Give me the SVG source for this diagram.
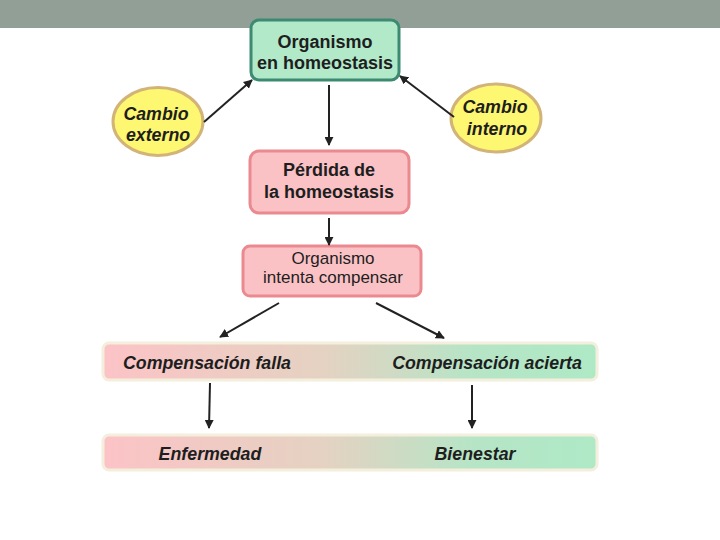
<svg xmlns="http://www.w3.org/2000/svg" width="720" height="540" viewBox="0 0 720 540">
<style>
text{font-family:"Liberation Sans",Arial,sans-serif;fill:#1e1e1e;text-anchor:middle;dominant-baseline:central}
.b{font-weight:bold;font-size:18px}
.r{font-size:17px}
.bi{font-weight:bold;font-style:italic;font-size:17.8px}
.green{fill:#b2e9c9;stroke:#3d8a72;stroke-width:3}
.pink{fill:#fbc2c6;stroke:#ea8a90;stroke-width:3}
.yel{fill:#fdf771;stroke:#d2b478;stroke-width:3}
.bar{fill:url(#g);stroke:#f3efdc;stroke-width:3}
.c{stroke:#222;stroke-width:2;fill:none;marker-end:url(#ah)}
</style>
<defs>
<linearGradient id="g" x1="0" y1="0" x2="1" y2="0">
<stop offset="0" stop-color="#fcc3c6"/>
<stop offset="0.45" stop-color="#e4d2c2"/>
<stop offset="0.75" stop-color="#b6e5c6"/>
<stop offset="1" stop-color="#aee9c6"/>
</linearGradient>
<marker id="ah" viewBox="0 0 10 10" refX="9" refY="5" markerWidth="4.5" markerHeight="4.5" orient="auto" markerUnits="strokeWidth">
<path d="M0,0 L10,5 L0,10 z" fill="#222"/>
</marker>
</defs>
<rect x="0" y="0" width="720" height="28" fill="#929f96"/>
<g id="organismo-homeostasis">
<rect class="green" x="251" y="20" width="148" height="60" rx="8"/>
<text class="b" x="325" y="42">Organismo</text>
<text class="b" x="325" y="63">en homeostasis</text>
</g>
<g id="cambio-externo">
<ellipse class="yel" cx="158" cy="121.5" rx="45" ry="34"/>
<text class="bi" x="156" y="114">Cambio</text>
<text class="bi" x="158" y="135">externo</text>
</g>
<g id="cambio-interno">
<ellipse class="yel" cx="496" cy="118" rx="45" ry="34"/>
<text class="bi" x="495" y="107">Cambio</text>
<text class="bi" x="497" y="129">interno</text>
</g>
<g id="perdida">
<rect class="pink" x="250" y="151" width="159" height="62" rx="9"/>
<text class="b" x="329" y="170">Pérdida de</text>
<text class="b" x="329" y="192">la homeostasis</text>
</g>
<g id="compensar">
<rect class="pink" x="243" y="246" width="178" height="50" rx="7"/>
<text class="r" x="333" y="258">Organismo</text>
<text class="r" x="333" y="277">intenta compensar</text>
</g>
<g id="compensacion">
<rect class="bar" x="103" y="343" width="494" height="37" rx="6"/>
<text class="bi" x="207" y="363">Compensación falla</text>
<text class="bi" x="487" y="363">Compensación acierta</text>
</g>
<g id="resultado">
<rect class="bar" x="103" y="435" width="494" height="35" rx="6"/>
<text class="bi" x="210" y="454">Enfermedad</text>
<text class="bi" x="475" y="454">Bienestar</text>
</g>
<g id="connectors">
<line class="c" x1="204" y1="122" x2="252" y2="80"/>
<line class="c" x1="454" y1="117" x2="400" y2="76"/>
<line class="c" x1="329" y1="85" x2="329" y2="145"/>
<line class="c" x1="329" y1="218" x2="329" y2="245"/>
<line class="c" x1="279" y1="303" x2="220" y2="337"/>
<line class="c" x1="376" y1="303" x2="444" y2="338"/>
<line class="c" x1="210" y1="383" x2="209" y2="428"/>
<line class="c" x1="472" y1="385" x2="472" y2="428"/>
</g>
</svg>
